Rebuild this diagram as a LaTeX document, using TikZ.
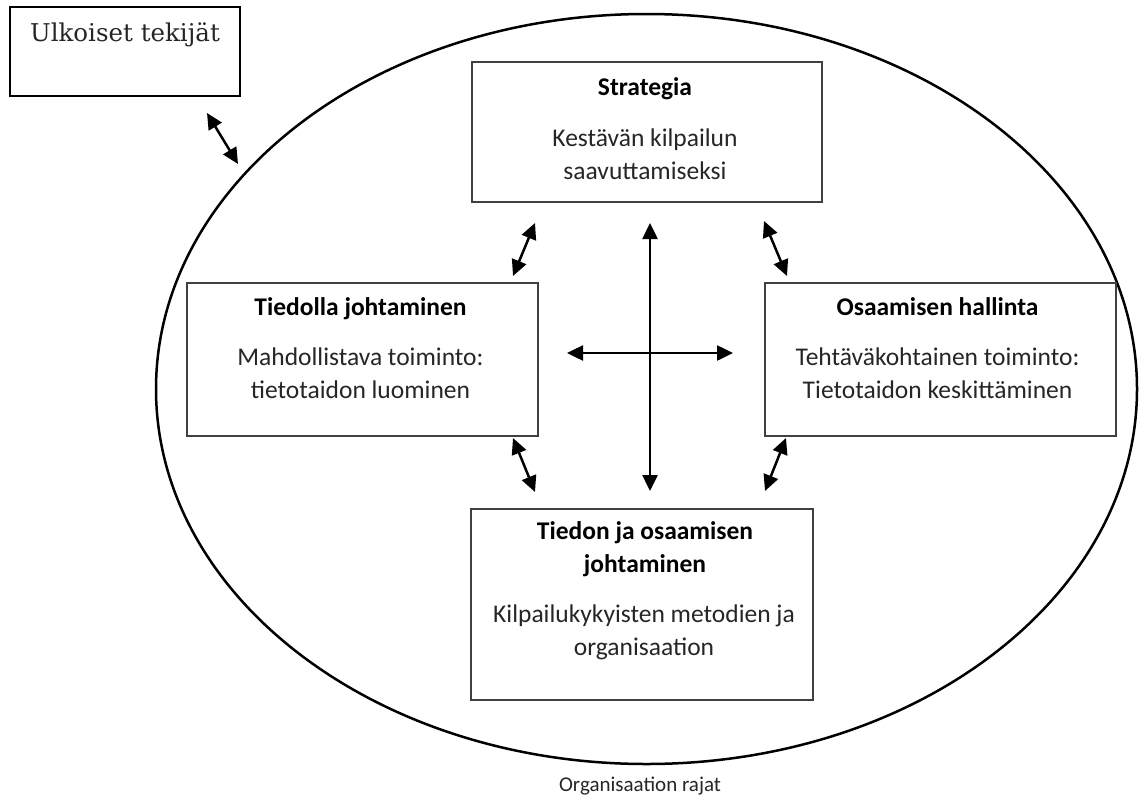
\documentclass[tikz,border=0pt]{standalone}
\usepackage{fontspec}
\setmainfont{Carlito}
\newfontfamily\slabfont{DejaVu Serif}
\usetikzlibrary{arrows.meta,shapes.geometric}
\begin{document}
\begin{tikzpicture}[x=1pt,y=-1pt,
  box/.style={draw=black!75,line width=1.4pt,inner sep=0pt,rectangle},
  title/.style={font=\fontsize{25.5}{33}\selectfont\bfseries,anchor=base,align=center,inner sep=0pt},
  body/.style={font=\fontsize{25.5}{33}\selectfont,text=black!85,anchor=base,align=center,inner sep=0pt},
  link/.style={line width=2.5pt,{Triangle[length=16pt,width=15pt]}-{Triangle[length=16pt,width=15pt]}}]
\useasboundingbox (0,0) rectangle (1139,803);
\fill[white] (0,0) rectangle (1139,803);

% organisation boundary
\node[draw,ellipse,line width=2.5pt,inner sep=0pt,minimum width=981pt,minimum height=750pt] (org) at (646.5,389) {};
\node[font=\fontsize{21}{24}\selectfont,text=black!85,anchor=base,inner sep=0pt] (orglabel) at (640,791) {Organisaation rajat};

% external factors
\node[draw=black,line width=2.5pt,rectangle,inner sep=0pt,minimum width=230pt,minimum height=89pt] (ext) at (125,51.5) {};
\node[font=\slabfont\fontsize{24.5}{28}\selectfont,text=black!85,anchor=base,inner sep=0pt] (exttext) at (125,41) {Ulkoiset tekijät};

% boxes
\node[box,minimum width=350pt,minimum height=140pt] (strat) at (647,132) {};
\node[box,minimum width=351pt,minimum height=153pt] (tied) at (362.5,359.5) {};
\node[box,minimum width=351pt,minimum height=153pt] (osaa) at (940.5,359.5) {};
\node[box,minimum width=342pt,minimum height=191pt] (tjo) at (642,604.5) {};

% box texts (base anchor = baseline of the last line)
\node[title] (strat-t) at (645,95) {Strategia};
\node[body] (strat-b) at (645,179) {Kestävän kilpailun\\saavuttamiseksi};
\node[title] (tied-t) at (360.5,315) {Tiedolla johtaminen};
\node[body] (tied-b) at (360.5,398) {Mahdollistava toiminto:\\tietotaidon luominen};
\node[title] (osaa-t) at (937.5,315) {Osaamisen hallinta};
\node[body] (osaa-b) at (937.5,398) {Tehtäväkohtainen toiminto:\\Tietotaidon keskittäminen};
\node[title] (tjo-t) at (645,572) {Tiedon ja osaamisen\\johtaminen};
\node[body] (tjo-b) at (644,655) {Kilpailukykyisten metodien ja\\organisaation};

% connector end points
\coordinate (u1) at (207,113);  \coordinate (u2) at (238,164);
\coordinate (sl1) at (535,223); \coordinate (sl2) at (513,276);
\coordinate (sr1) at (764,221); \coordinate (sr2) at (787,276);
\coordinate (v1) at (650,223);  \coordinate (v2) at (650,491);
\coordinate (h1) at (567,353);  \coordinate (h2) at (733,353);
\coordinate (bl1) at (513,438); \coordinate (bl2) at (535,492);
\coordinate (br1) at (786,438); \coordinate (br2) at (765,491);

\draw[link] (u1) -- (u2);
\draw[link] (sl1) -- (sl2);
\draw[link] (sr1) -- (sr2);
\draw[link] (v1) -- (v2);
\draw[link] (h1) -- (h2);
\draw[link] (bl1) -- (bl2);
\draw[link] (br1) -- (br2);
\end{tikzpicture}
\end{document}
